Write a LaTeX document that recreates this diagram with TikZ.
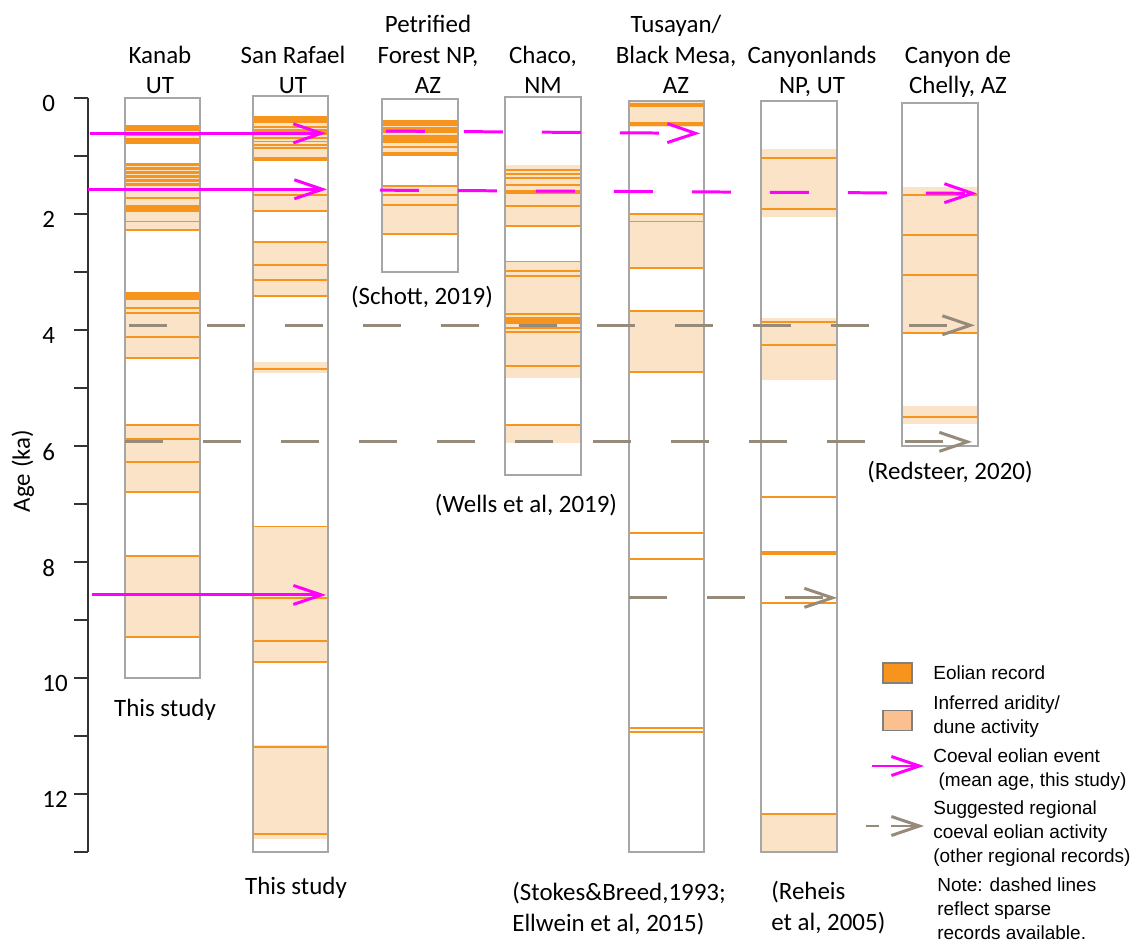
\documentclass[tikz,border=0pt]{standalone}
\usepackage{fontspec}
\setmainfont{Carlito}
\newfontfamily\keyfont{Liberation Sans}
\usepackage{tikz}
\usetikzlibrary{arrows.meta}
\usetikzlibrary{positioning}
\definecolor{eoorange}{RGB}{247,148,30}
\definecolor{aridpeach}{RGB}{251,227,200}
\definecolor{aridkey}{RGB}{250,192,144}
\definecolor{coevalpink}{RGB}{255,0,255}
\definecolor{regiongray}{RGB}{150,138,122}
\definecolor{coregray}{RGB}{166,166,166}

\begin{document}
\begin{tikzpicture}[x = 0.02cm, y = -0.02cm, font = \fontsize{14.2}{17.6}\selectfont,
	core/.style = {draw = coregray, line width = 1.1pt},
	arid/.style = {fill = aridpeach},
	eol/.style = {draw = eoorange, line width = 1.1pt},
	eolthick/.style = {draw = eoorange, line width = 2.3pt},
	coeval/.style = {draw = coevalpink, line width = 1.7pt, -{Straight Barb[length = 0.56cm, width = 0.38cm]}},
	coevaldash/.style = {coeval, dash pattern = on 0.78cm off 0.78cm},
	region/.style = {draw = regiongray, line width = 1.7pt, dash pattern = on 0.76cm off 0.8cm, -{Straight Barb[length = 0.56cm, width = 0.38cm]}},
	txt/.style = {inner sep = 0pt, anchor = base},
	title/.style = {txt, align = center},
	keybox/.style = {draw = gray, line width = 0.9pt, minimum width = 0.58cm, minimum height = 0.4cm, inner sep = 0pt},
	keytext/.style = {inner sep = 0pt, anchor = base west, align = left, font = \keyfont\fontsize{10.8}{13.6}\selectfont}]
	\useasboundingbox (0,0) rectangle (1136,945);
	\begin{scope}[yshift = -1.96cm, y = -1.16cm]
		\foreach \a/\b in {0.48/0.8, 1.12/2.28, 3.36/4.5, 5.64/6.79, 7.9/9.29} \fill[arid] (125,\a) rectangle (200,\b);
		\foreach \a in {0.48,0.52,0.56,0.64,0.7,0.74,0.78,1.72,2.13,2.27,3.62,3.71,4.12,4.48,5.64,5.88,6.27,6.79,7.9,9.29} \draw[eol] (125,\a) -- (200,\a);
		\foreach \a in {1.14,1.21,1.28,1.35,1.42,1.49} \draw[eoorange, line width = 1.8pt] (125,\a) -- (200,\a);
		\foreach \a in {1.88,1.93,3.38,3.45} \draw[eolthick] (125,\a) -- (200,\a);
		\foreach \a/\b in {0.33/1.07, 1.58/1.95, 2.49/3.41, 4.55/4.75, 7.39/9.72, 11.15/12.78} \fill[arid] (253,\a) rectangle (328,\b);
		\foreach \a in {0.5,0.55,0.69,0.75,0.81,0.86,1.67,1.95,2.49,2.88,3.14,3.41,4.68,7.39,8.62,9.36,9.72,11.19,12.69} \draw[eol] (253,\a) -- (328,\a);
		\foreach \a in {0.35,0.4,0.6,1.05} \draw[eolthick] (253,\a) -- (328,\a);
		\foreach \a/\b in {0.38/1.0, 1.5/2.34} \fill[arid] (382,\a) rectangle (458,\b);
		\foreach \a in {0.47,0.52,0.76,0.84,1.51,1.67,1.85,2.34} \draw[eol] (382,\a) -- (458,\a);
		\foreach \a in {0.41,0.57,0.67,0.71,0.97} \draw[eolthick] (382,\a) -- (458,\a);
		\foreach \a/\b in {1.16/2.2, 2.82/4.83, 5.64/5.95} \fill[arid] (505,\a) rectangle (581,\b);
		\foreach \a in {1.24,1.31,1.38,1.5,1.86,2.2,2.82,2.98,3.07,3.73,3.97,4.03,4.63,5.64} \draw[eol] (505,\a) -- (581,\a);
		\foreach \a in {1.62,3.81,3.86} \draw[eolthick] (505,\a) -- (581,\a);
		\foreach \a/\b in {0.05/0.5, 2.0/2.93, 3.67/4.73} \fill[arid] (629,\a) rectangle (704,\b);
		\foreach \a in {2.0,2.13,2.93,3.67,4.73,7.5,7.95,10.86,10.94} \draw[eol] (629,\a) -- (704,\a);
		\foreach \a in {0.12,0.45} \draw[eolthick] (629,\a) -- (704,\a);
		\foreach \a/\b in {0.88/2.05, 3.8/4.86, 12.35/13} \fill[arid] (761,\a) rectangle (837,\b);
		\foreach \a in {1.03,1.92,3.87,4.26,6.88,8.71,12.35} \draw[eol] (761,\a) -- (837,\a);
		\foreach \a in {7.85} \draw[eolthick] (761,\a) -- (837,\a);
		\foreach \a/\b in {1.53/4.07, 5.31/5.62} \fill[arid] (902,\a) rectangle (978,\b);
		\foreach \a in {1.67,2.37,3.05,4.05,5.5} \draw[eol] (902,\a) -- (978,\a);
		\draw[core] (125,0) rectangle (200,10);
		\draw[core] (253,-0.03) rectangle (328,13);
		\draw[core] (382,0.02) rectangle (458,3);
		\draw[core] (505,-0.02) rectangle (581,6.5);
		\draw[core] (629,0.05) rectangle (704,13);
		\draw[core] (761,0.05) rectangle (837,13);
		\draw[core] (902,0.09) rectangle (978,6);
		\draw[black!80, line width = 1.1pt] (88,0) -- (88,13);
		\foreach \k in {0,...,13} \draw[black!80, line width = 1.1pt] (74,\k) -- (88,\k);
		\foreach \k in {0,2,...,12} \node[inner sep = 0pt, anchor = west] (age\k) at (42,\k+0.1) {\k};
		\coordinate (r1a) at (129,3.92);
		\coordinate (r1b) at (975,3.92);
		\coordinate (r2a) at (125,5.93);
		\coordinate (r2b) at (972,5.93);
		\coordinate (r3a) at (629,8.62);
		\coordinate (r3b) at (837,8.62);
		\draw[region] (r1a) -- (r1b);
		\draw[region] (r2a) -- (r2b);
		\draw[region] (r3a) -- (r3b);
		\coordinate (c1a) at (90,0.61);
		\coordinate (c1b) at (326,0.61);
		\coordinate (c2a) at (88,1.575);
		\coordinate (c2b) at (327,1.575);
		\coordinate (c3a) at (92,8.57);
		\coordinate (c3b) at (326,8.57);
		\coordinate (d1a) at (386,0.57);
		\coordinate (d1b) at (700,0.61);
		\coordinate (d2a) at (380,1.59);
		\coordinate (d2b) at (977,1.645);
		\draw[coeval] (c1a) -- (c1b);
		\draw[coeval] (c2a) -- (c2b);
		\draw[coeval] (c3a) -- (c3b);
		\draw[coevaldash] (d1a) -- (d1b);
		\draw[coevaldash] (d2a) -- (d2b);
	\end{scope}
	\node[rotate = 90] (agelabel) at (23,471) {Age (ka)};
	\node[title] (kanab) at (160,94) {Kanab\\UT};
	\node[title] (rafael) at (293,94) {San Rafael\\UT};
	\node[title] (petrified) at (428,94) {Petrified\\Forest NP,\\AZ};
	\node[title] (chaco) at (543,94) {Chaco,\\NM};
	\node[title] (tusayan) at (676,94) {Tusayan/\\Black Mesa,\\AZ};
	\node[title] (canyonlands) at (812,94) {Canyonlands\\NP, UT};
	\node[title] (chelly) at (958,94) {Canyon de\\Chelly, AZ};
	\node[txt] (srckanab) at (165,716) {This study};
	\node[txt] (srcrafael) at (296,894) {This study};
	\node[txt] (srcpetrified) at (422,305) {(Schott, 2019)};
	\node[txt] (srcchaco) at (526,513) {(Wells et al, 2019)};
	\node[txt, anchor = base west, align = left] (srctusayan) at (512,931) {(Stokes\&Breed,1993;\\Ellwein et al, 2015)};
	\node[txt, anchor = base west, align = left] (srccanyonlands) at (771,930) {(Reheis\\et al, 2005)};
	\node[txt] (srcchelly) at (950,480) {(Redsteer, 2020)};
	\node[keybox, fill = eoorange] (keyeol) at (897.5,673) {};
	\node[keybox, fill = aridkey] (keyarid) at (897.5,720.5) {};
	\coordinate (keyc1) at (872,766);
	\coordinate (keyc2) at (924,766);
	\coordinate (keyr1) at (866,826);
	\coordinate (keyr2) at (924,826);
	\draw[coeval] (keyc1) -- (keyc2);
	\draw[region, dash pattern = on 0.26cm off 0.24cm on 1cm off 1cm] (keyr1) -- (keyr2);
	\node[keytext] (keyeoltxt) at (933,679) {Eolian record};
	\node[keytext] (keyaridtxt) at (933,733) {Inferred aridity/\\dune activity};
	\node[keytext] (keycoevaltxt) at (933,786) {Coeval eolian event\\~(mean age, this study)};
	\node[keytext] (keyregiontxt) at (933,862) {Suggested regional\\coeval eolian activity\\(other regional records)};
	\node[keytext] (notetxt) at (937,939) {Note: dashed lines\\reflect sparse\\records available.};
\end{tikzpicture}
\end{document}
